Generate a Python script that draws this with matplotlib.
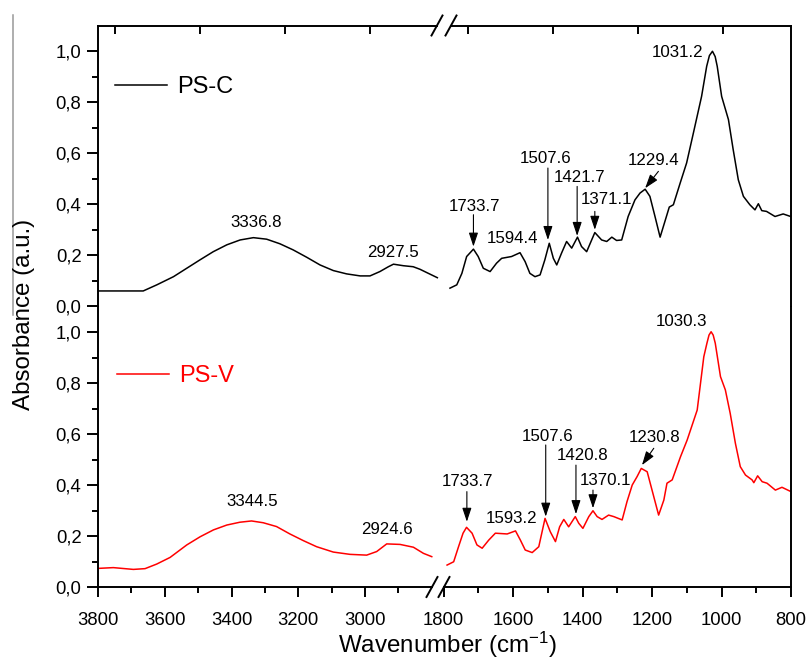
import matplotlib
matplotlib.use("Agg")
import matplotlib.pyplot as plt
from matplotlib.ticker import FixedLocator, FuncFormatter
from matplotlib.lines import Line2D

plt.rcParams['font.family'] = ['Liberation Sans', 'DejaVu Sans']
plt.rcParams['mathtext.default'] = 'regular'

# ---- PS-C (top panel) ----
psc_hi_wn = [3799, 3667, 3627, 3578, 3539, 3500, 3461, 3421, 3382, 3343, 3304, 3265,
             3226, 3186, 3147, 3108, 3069, 3029, 3000, 2971, 2946, 2931, 2902, 2873,
             2853, 2833, 2802]
psc_hi_abs = [0.059, 0.059, 0.083, 0.115, 0.148, 0.181, 0.213, 0.240, 0.259, 0.268, 0.262, 0.244,
              0.220, 0.191, 0.161, 0.139, 0.126, 0.118, 0.118, 0.135, 0.154, 0.164, 0.158, 0.154,
              0.144, 0.131, 0.111]

psc_lo_wn = [1803, 1783, 1768, 1754, 1734, 1720, 1705, 1685, 1666, 1651, 1622, 1597,
             1582, 1568, 1553, 1538, 1524, 1511, 1499, 1489, 1475, 1460, 1445, 1428,
             1416, 1401, 1377, 1357, 1342, 1327, 1313, 1298, 1279, 1259, 1244, 1229,
             1215, 1200, 1185, 1171, 1158, 1146, 1126, 1107, 1087, 1063, 1048, 1040, 1031,
             1023, 1017, 1004, 984, 970, 955, 940, 921, 906, 896, 886, 872, 847, 823, 801]
psc_lo_abs = [0.070, 0.083, 0.128, 0.194, 0.223, 0.194, 0.148, 0.135, 0.168, 0.187, 0.194, 0.209,
              0.174, 0.128, 0.115, 0.122, 0.181, 0.246, 0.187, 0.161, 0.207, 0.253, 0.227, 0.270,
              0.233, 0.213, 0.288, 0.259, 0.253, 0.270, 0.257, 0.259, 0.351, 0.416, 0.443, 0.458,
              0.430, 0.351, 0.270, 0.331, 0.388, 0.397, 0.482, 0.561, 0.679, 0.822, 0.940, 0.982, 0.999,
              0.978, 0.940, 0.822, 0.731, 0.613, 0.495, 0.430, 0.397, 0.377, 0.401, 0.374, 0.371, 0.351,
              0.361, 0.351]

# ---- PS-V (bottom panel) ----
psv_hi_wn = [3799, 3754, 3694, 3659, 3624, 3584, 3534, 3494, 3454, 3414, 3375, 3340,
             3305, 3265, 3225, 3185, 3145, 3095, 3045, 2995, 2965, 2935, 2895, 2855,
             2825, 2800]
psv_hi_abs = [0.073, 0.076, 0.069, 0.072, 0.090, 0.116, 0.165, 0.197, 0.224, 0.243, 0.254, 0.259,
              0.252, 0.237, 0.208, 0.182, 0.158, 0.137, 0.128, 0.125, 0.139, 0.169, 0.167, 0.156,
              0.132, 0.119]

psv_lo_wn = [1790, 1771, 1757, 1744, 1734, 1718, 1704, 1689, 1670, 1651, 1617, 1593,
             1579, 1565, 1545, 1526, 1508, 1493, 1478, 1466, 1454, 1440, 1421, 1411,
             1399, 1382, 1370, 1358, 1344, 1325, 1310, 1286, 1272, 1257, 1243, 1231,
             1214, 1200, 1181, 1166, 1157, 1142, 1118, 1099, 1070, 1051, 1042, 1036, 1030,
             1024, 1018, 1003, 989, 975, 960, 946, 931, 912, 907, 896, 883, 869, 845, 826, 800]
psv_lo_abs = [0.086, 0.099, 0.158, 0.211, 0.234, 0.211, 0.165, 0.152, 0.184, 0.211, 0.208, 0.220,
              0.184, 0.145, 0.135, 0.158, 0.269, 0.217, 0.178, 0.236, 0.265, 0.236, 0.276, 0.250,
              0.230, 0.276, 0.299, 0.276, 0.265, 0.282, 0.276, 0.263, 0.335, 0.400, 0.433, 0.465,
              0.452, 0.380, 0.282, 0.341, 0.407, 0.420, 0.511, 0.576, 0.694, 0.903, 0.956, 0.988, 1.001,
              0.988, 0.956, 0.825, 0.773, 0.681, 0.563, 0.472, 0.439, 0.420, 0.409, 0.436, 0.413, 0.407,
              0.380, 0.391, 0.374]

# peak labels: (text, x, y)  and arrows: (x_tail, y_tail, x_tip, y_tip)
psc_labels_hi = [("3336.8", 3335, 0.326), ("2927.5", 2932, 0.208)]
psc_labels_lo = [("1733.7", 1732, 0.389), ("1594.4", 1619, 0.263), ("1507.6", 1523, 0.578),
                 ("1421.7", 1423, 0.503), ("1371.1", 1344, 0.417), ("1229.4", 1203, 0.570),
                 ("1031.2", 1134, 0.994)]
psc_arrows = [(1734, 0.358, 1734, 0.233), (1515, 0.541, 1515, 0.259),
              (1429, 0.469, 1429, 0.275), (1377, 0.371, 1377, 0.299),
              (1190, 0.528, 1229, 0.462)]

psv_labels_hi = [("3344.5", 3339, 0.337), ("2924.6", 2934, 0.224)]
psv_labels_lo = [("1733.7", 1730, 0.412), ("1593.2", 1605, 0.267), ("1507.6", 1502, 0.592),
                 ("1420.8", 1399, 0.514), ("1370.1", 1334, 0.416), ("1230.8", 1193, 0.586),
                 ("1030.3", 1116, 1.043)]
psv_arrows = [(1733, 0.374, 1733, 0.256), (1506, 0.557, 1506, 0.276),
              (1419, 0.478, 1419, 0.286), (1370, 0.380, 1370, 0.309),
              (1195, 0.544, 1229, 0.478)]

W, H = 807, 661
fig = plt.figure(figsize=(W / 100, H / 100), dpi=100)


def rect(x0, x1, y0, y1):
    # pixel box (image coords) -> figure fraction
    return [x0 / W, 1 - y1 / H, (x1 - x0) / W, (y1 - y0) / H]


ax_tl = fig.add_axes(rect(98, 444, 25.5, 306))
ax_tr = fig.add_axes(rect(444, 791, 25.5, 306))
ax_bl = fig.add_axes(rect(98, 438, 306.5, 587))
ax_br = fig.add_axes(rect(438, 791, 306.5, 587))

ax_tl.set_xlim(3800, 2782.4)
ax_tr.set_xlim(1820.6, 800)
ax_bl.set_xlim(3800, 2781.3)
ax_br.set_xlim(1816.1, 800)

lw_data = 1.1
ax_tl.plot(psc_hi_wn, psc_hi_abs, color="black", lw=lw_data, label="PS-C")
ax_tr.plot(psc_lo_wn, psc_lo_abs, color="black", lw=lw_data)
ax_bl.plot(psv_hi_wn, psv_hi_abs, color="red", lw=lw_data, label="PS-V")
ax_br.plot(psv_lo_wn, psv_lo_abs, color="red", lw=lw_data)

spine_w = 1.4
comma = FuncFormatter(lambda v, p: f"{v:.1f}".replace(".", ","))

for ax in (ax_tl, ax_tr, ax_bl, ax_br):
    ax.set_ylim(0, 1.1)
    for s in ax.spines.values():
        s.set_linewidth(spine_w)
    ax.tick_params(which="both", width=spine_w, labelsize=13.3)

for ax in (ax_tl, ax_bl):
    ax.spines["right"].set_visible(False)
    ax.yaxis.set_major_locator(FixedLocator([0, 0.2, 0.4, 0.6, 0.8, 1.0]))
    ax.yaxis.set_minor_locator(FixedLocator([0.1, 0.3, 0.5, 0.7, 0.9]))
    ax.yaxis.set_major_formatter(comma)
    ax.tick_params(axis="y", which="major", direction="out", length=7.9, pad=4)
    ax.tick_params(axis="y", which="minor", direction="out", length=4)

for ax in (ax_tr, ax_br):
    ax.spines["left"].set_visible(False)
    ax.tick_params(axis="y", which="both", left=False, labelleft=False)

# top row: no bottom spine, inward ticks on the top edge
for ax, ticks in ((ax_tl, [3750, 3500, 3250, 3000]), (ax_tr, [1750, 1500, 1250, 1000])):
    ax.spines["bottom"].set_visible(False)
    ax.xaxis.set_major_locator(FixedLocator(ticks))
    ax.tick_params(axis="x", which="both", bottom=False, labelbottom=False,
                   top=True, direction="in", length=5.8)

# bottom row: no top spine, outward ticks with labels
for ax, major, minor in ((ax_bl, [3800, 3600, 3400, 3200, 3000], [3700, 3500, 3300, 3100, 2900]),
                         (ax_br, [1800, 1600, 1400, 1200, 1000, 800], [1700, 1500, 1300, 1100, 900])):
    ax.spines["top"].set_visible(False)
    ax.xaxis.set_major_locator(FixedLocator(major))
    ax.xaxis.set_minor_locator(FixedLocator(minor))
    ax.tick_params(axis="x", which="major", direction="out", length=7.2, pad=11)
    ax.tick_params(axis="x", which="minor", direction="out", length=4.3)

# peak labels and arrows
for ax, labels in ((ax_tl, psc_labels_hi), (ax_tr, psc_labels_lo),
                   (ax_bl, psv_labels_hi), (ax_br, psv_labels_lo)):
    for txt, x, y in labels:
        ax.text(x, y, txt, fontsize=12.2, ha="center", va="center")

for ax, arrows in ((ax_tr, psc_arrows), (ax_br, psv_arrows)):
    for x0, y0, x1, y1 in arrows:
        ax.annotate("", xy=(x1, y1), xytext=(x0, y0),
                    arrowprops=dict(arrowstyle="-|>,head_length=0.6,head_width=0.2",
                                    color="black", lw=0.8, mutation_scale=14,
                                    shrinkA=0, shrinkB=0))

# legends
ax_tl.legend(loc="center left", bbox_to_anchor=(0.049, 0.781), frameon=False, fontsize=17,
             handlelength=2.2, handletextpad=0.42, borderpad=0, borderaxespad=0)
ax_bl.legend(loc="center left", bbox_to_anchor=(0.056, 0.752), frameon=False, fontsize=17,
             handlelength=2.2, handletextpad=0.42, borderpad=0, borderaxespad=0,
             labelcolor="linecolor")


# axis break: gap in the spine plus two slashes
def axis_break(ax_l, ax_r, side, half):
    xb = ax_r.get_position().x0 * W
    for ax, lo, hi in ((ax_l, None, xb - half), (ax_r, xb + half, None)):
        inv = ax.transData.inverted()
        xlim = ax.get_xlim()
        a = xlim[0] if lo is None else inv.transform((lo, 0))[0]
        b = xlim[1] if hi is None else inv.transform((hi, 0))[0]
        ax.spines[side].set_bounds(a, b)
    pos = ax_r.get_position()
    ys = (pos.y1 if side == "top" else pos.y0) * H
    for xc in (xb - half, xb + half):
        fig.add_artist(Line2D([(xc - 5.5) / W, (xc + 5.5) / W],
                              [(ys - 10) / H, (ys + 10) / H],
                              color="black", lw=1.4, transform=fig.transFigure))


axis_break(ax_tl, ax_tr, "top", 7)
axis_break(ax_bl, ax_br, "bottom", 6)

fig.text(447 / W, 1 - 645 / H, "Wavenumber (cm$^{-1}$)", fontsize=17.4, ha="center", va="center")
fig.text(24 / W, 1 - 314 / H, "Absorbance (a.u.)", fontsize=17.4, rotation=90,
         ha="center", va="center")
fig.add_artist(Line2D([13 / W, 13 / W], [1 - 15 / H, 1 - 315 / H], color="#999999", lw=1.1,
                      transform=fig.transFigure))

fig.savefig("out.png", dpi=100)
